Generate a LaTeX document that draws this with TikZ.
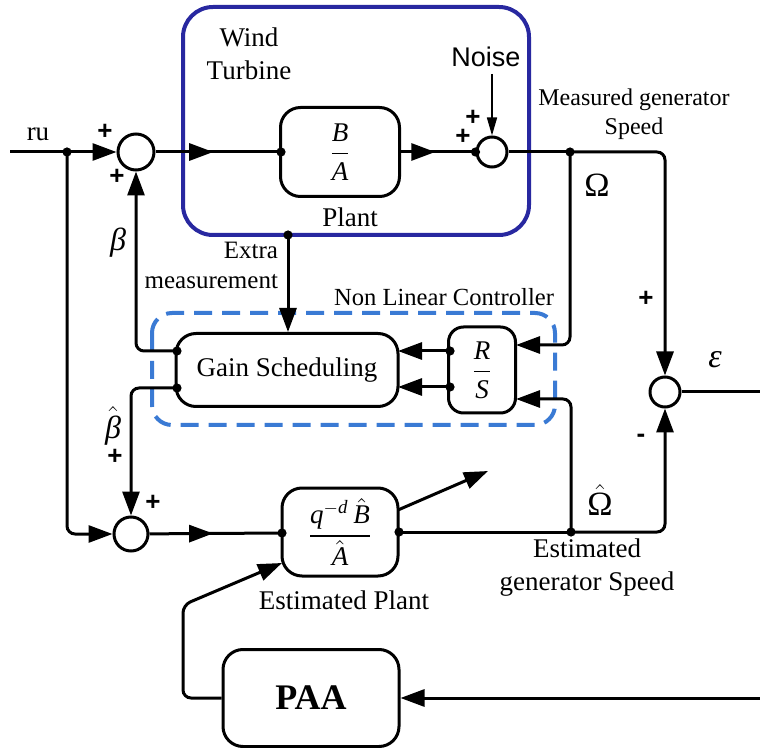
\documentclass[tikz,border=0pt]{standalone}
\usepackage{amsmath}
\usepackage{fontspec}
\setmainfont{Liberation Serif}
\setsansfont{Liberation Sans}
\usepackage{tikz}
\usetikzlibrary{arrows.meta,decorations.markings}
\definecolor{turbineblue}{RGB}{40,40,160}
\definecolor{ctrlblue}{RGB}{58,122,212}
\tikzset{
  blk/.style={draw, line width=1.5pt, rounded corners=10pt, fill=white, align=center, inner sep=1pt},
  fracblk/.style={blk, font=\fontsize{13.5}{15}\selectfont},
  sumjn/.style={draw, circle, line width=1.5pt, inner sep=0pt, fill=white},
  sig/.style={line width=1.5pt, rounded corners=4pt},
  tip/.style={-{Triangle[length=12pt,width=8.5pt]}},
  midarr/.style={decoration={
    markings,
    mark=at position #1 with {\arrow{Triangle[length=12pt,width=8.5pt]}}},
    postaction={decorate}},
  sgn/.style={font=\sffamily\bfseries\fontsize{13}{15}\selectfont, inner sep=0pt}
}

\begin{document}
\begin{tikzpicture}[x=0.5pt,y=-0.5pt,font=\fontsize{13.5}{16.5}\selectfont]
  \useasboundingbox (0,0) rectangle (760,748);

  %wind turbine frame
  \draw[turbineblue, line width=2pt, rounded corners=15pt] (183,7) rectangle (529,235);
  %non linear controller frame
  \draw[ctrlblue, line width=2pt, dash pattern=on 9pt off 5pt, rounded corners=10pt]
    (152,313) rectangle (555,425);

  %blocks
  \node[fracblk, minimum width=59.5pt, minimum height=44.5pt] (plant) at (340,152)
    {$\dfrac{\textit{B}}{\textit{A}}$};
  \node[blk, minimum width=111pt, minimum height=36.5pt] (gs) at (287,370) {Gain Scheduling};
  \node[fracblk, rounded corners=7.5pt, minimum width=33.5pt, minimum height=43pt] (rs) at (482,370)
    {$\dfrac{\textit{R}}{\textit{S}}$};
  \node[fracblk, minimum width=58pt, minimum height=44pt] (est) at (340,532)
    {$\dfrac{\textit{q}^{-\textit{d}}\,\hat{\text{\itshape B}}}{\hat{\text{\itshape A}}}$};
  \node[blk, minimum width=88pt, minimum height=48.5pt, font=\bfseries\fontsize{18}{20}\selectfont]
    (paa) at (311,698) {PAA};

  %summing junctions
  \node[sumjn, minimum size=18pt] (s1) at (136,152) {};
  \node[sumjn, minimum size=15pt] (s2) at (492,152) {};
  \node[sumjn, minimum size=15pt] (s3) at (665,392) {};
  \node[sumjn, minimum size=17pt] (s4) at (131,534) {};

  %branch points and free ends
  \coordinate (ruin) at (10,152);
  \coordinate (rudot) at (67,152);
  \coordinate (plantin) at (281,152);
  \coordinate (s2in) at (s2.west);
  \coordinate (omdot) at (570,152);
  \coordinate (xdot) at (288,235);
  \coordinate (gsout1) at (177,351);
  \coordinate (gsout2) at (177,388);
  \coordinate (gsin1) at (398,351);
  \coordinate (gsin2) at (398,387);
  \coordinate (rsout1) at (450,351);
  \coordinate (rsout2) at (450,387);
  \coordinate (rsin1) at (516,345);
  \coordinate (rsin2) at (516,399);
  \coordinate (estin) at (282,533);
  \coordinate (estout) at (399,532);
  \coordinate (estdot) at (571,532);
  \coordinate (epsout) at (762,392);
  \coordinate (epsin) at (762,698);
  \coordinate (adjbend) at (183,605);
  \coordinate (estadj) at (282,563);
  \coordinate (estadj2) at (398,510);
  \coordinate (adjout) at (488,471);

  %forward path
  \draw[sig] (ruin) -- (rudot);
  \draw[sig, tip] (rudot) -- (s1);
  \draw[sig, midarr=0.46] (s1) -- (plantin);
  \draw[sig, midarr=0.46] (plant) -- (s2in);
  \draw[sig] (s2) -- (omdot);
  \draw[sig, tip] (omdot) -| (s3);
  \draw[sig] (s3) -- (epsout);

  %noise
  \node[font=\sffamily\fontsize{13.5}{15}\selectfont] (noise) at (486,57) {Noise};
  \draw[line width=0.8pt, -{Triangle[length=9pt,width=5pt]}] (noise.south -| s2) -- (s2);

  %controller
  \draw[sig, tip] (xdot) -- (xdot |- gs.north);
  \draw[sig, tip] (omdot) |- (rsin1);
  \draw[sig, tip] (estdot) |- (rsin2);
  \draw[sig, tip] (rsout1) -- (gsin1);
  \draw[sig, tip] (rsout2) -- (gsin2);
  \draw[sig, tip] (gsout1) -| (s1);
  \draw[sig, tip] (gsout2) -| (s4);

  %estimation path
  \draw[sig, tip] (rudot) |- (s4);
  \draw[sig, midarr=0.48] (s4) -- (estin);
  \draw[sig] (estout) -- (estdot);
  \draw[sig, tip] (estdot) -| (s3);

  %adaptation
  \draw[sig, tip] (epsin) -- (paa);
  \draw[sig, tip] (paa) -| (adjbend) -- (estadj);
  \draw[sig, tip] (estadj2) -- (adjout);

  %dots
  \foreach \p in {rudot,plantin,s2in,omdot,xdot,gsout1,gsout2,rsout1,rsout2,estin,estout,estdot}
    \fill (\p) circle (2.3pt);

  %signs
  \foreach \px/\py [count=\i] in {105/132,117/177,473/118,463/137,646/299,115/457,153/503}
    \node[sgn] (plus\i) at (\px,\py) {+};
  \node[sgn] (minus) at (641,438) {-};

  %labels
  \node (ru) at (38,134) {ru};
  \node[align=center] (wt) at (249,54) {Wind\\Turbine};
  \node (plantlbl) at (350,217) {Plant};
  \node[align=center, font=\fontsize{12}{14.5}\selectfont] (meas) at (634,114)
    {Measured generator\\Speed};
  \node[anchor=east, align=right, font=\fontsize{12.5}{15}\selectfont] (extra) at (285,265)
    {Extra\\measurement};
  \node[font=\fontsize{12.3}{14}\selectfont] (nlc) at (444,297) {Non Linear Controller};
  \node (estlbl) at (344,600) {Estimated Plant};
  \node[align=center] (estsp) at (587,568) {Estimated\\generator Speed};
  \node[font=\fontsize{17}{19}\selectfont] (om) at (597,185) {Ω};
  \node[font=\fontsize{17}{19}\selectfont] (omhat) at (600,500) {$\hat{\text{Ω}}$};
  \node[font=\fontsize{17}{19}\selectfont] (eps) at (715,360) {\textit{ε}};
  \node[font=\fontsize{16}{18}\selectfont] (beta) at (118,243) {\textit{β}};
  \node[font=\fontsize{16}{18}\selectfont] (betahat) at (113,426) {$\hat{\text{\itshape β}}$};
\end{tikzpicture}
\end{document}
